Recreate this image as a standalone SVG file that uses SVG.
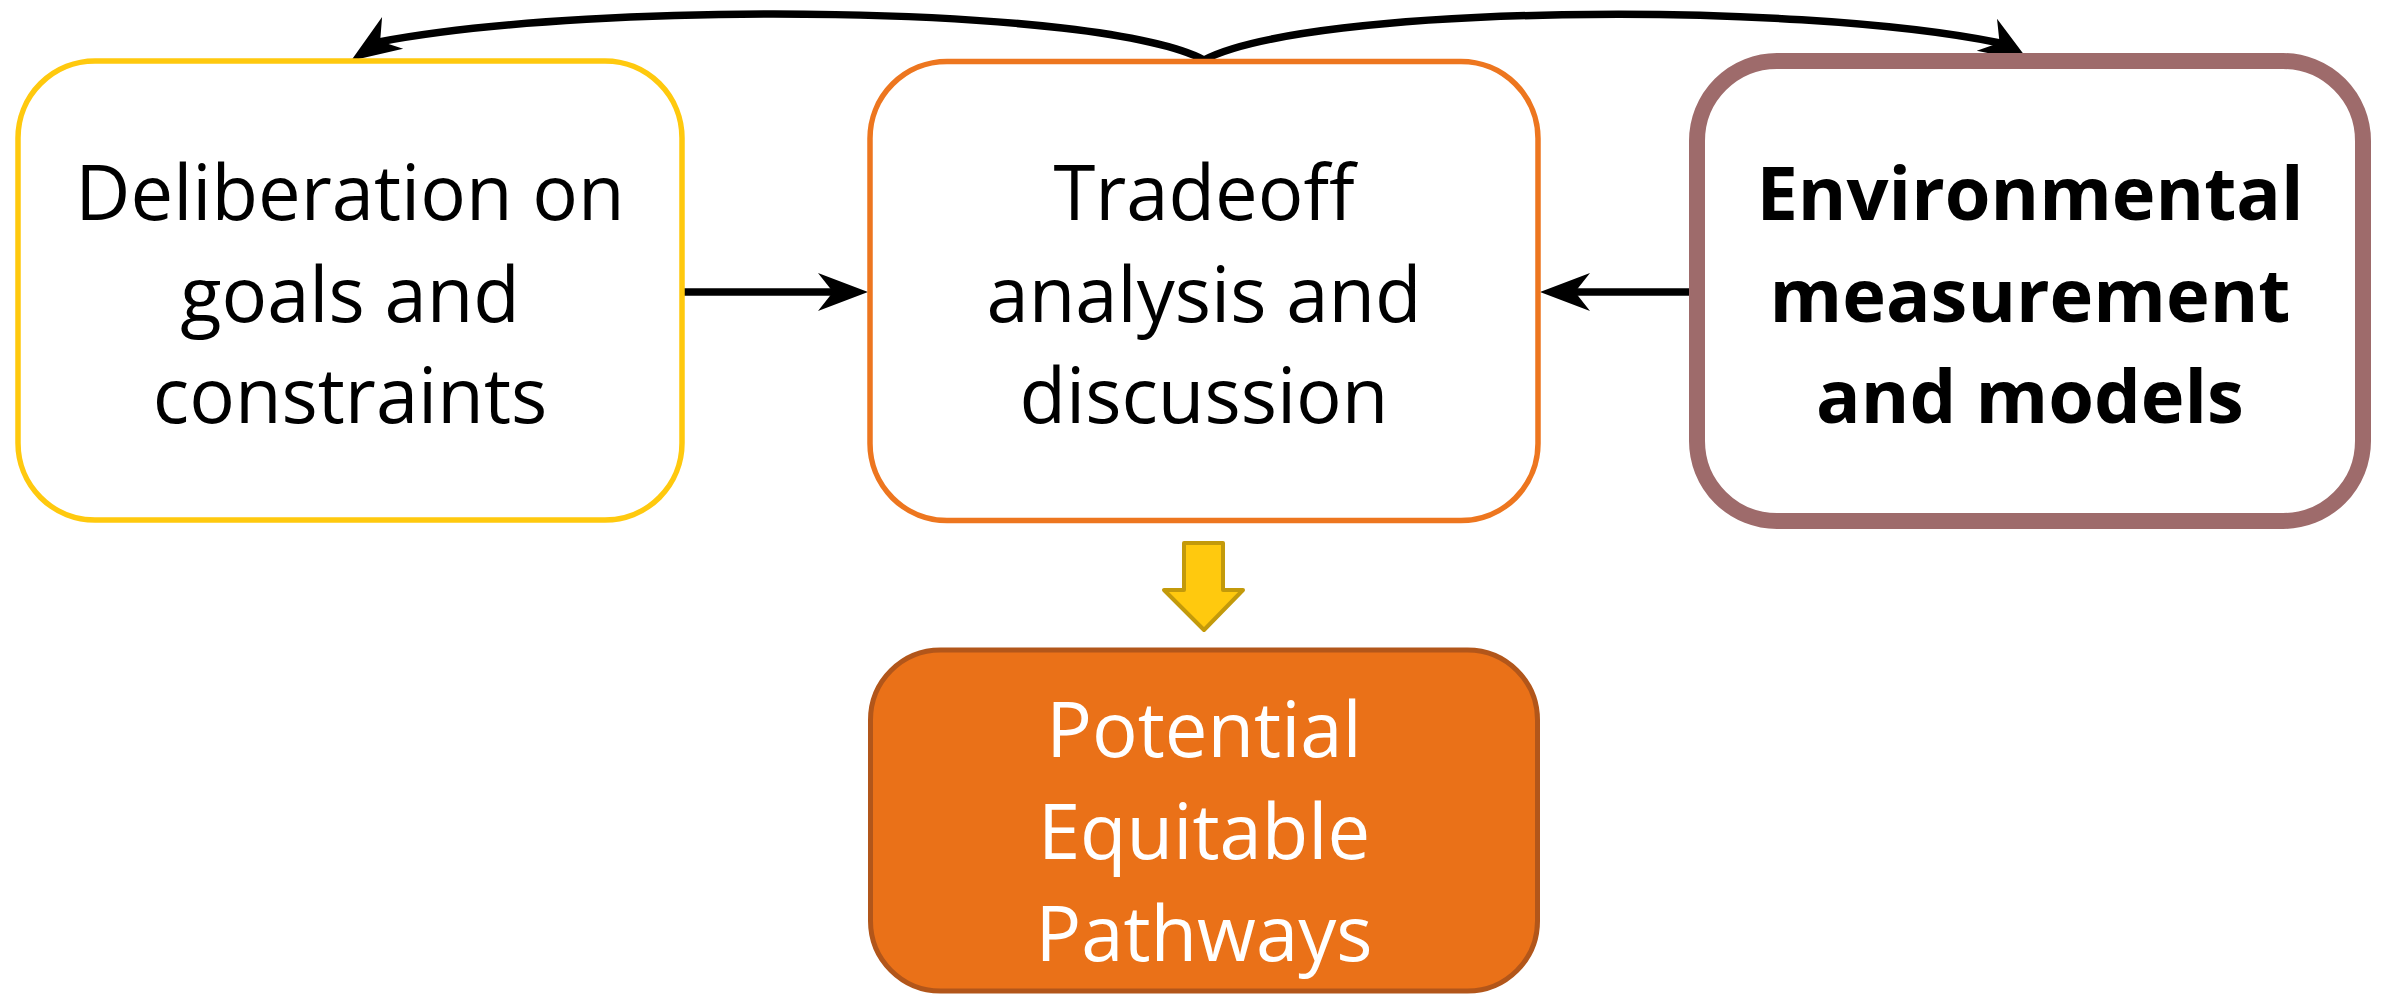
<svg xmlns="http://www.w3.org/2000/svg" width="2385" height="997" viewBox="0 0 2385 997">
  <style>
    .label { font-family: "Open Sans", "Liberation Sans", sans-serif; font-size: 76px; text-anchor: middle; fill: #000; }
    .bold { font-weight: bold; font-size: 74px; }
    .light { fill: #fff; }
    .wire { fill: none; stroke: #000; stroke-width: 7.5; }
  </style>
  <defs>
    <!-- stealth head: tip 12px beyond the path end so the stroke stays hidden inside it -->
    <marker id="stealth" markerUnits="userSpaceOnUse" markerWidth="70" markerHeight="50" viewBox="-52 -22 70 44" refX="-12" refY="0" orient="auto">
      <path d="M0,0 L-50,-19 L-35,0 L-50,19 Z" fill="#000"/>
    </marker>
  </defs>

  <!-- connectors -->
  <g id="connectors">
    <path class="wire" d="M684,292 L856,292" marker-end="url(#stealth)"/>
    <path class="wire" d="M1690,292 L1552,292" marker-end="url(#stealth)"/>
    <path class="wire" d="M1204,60 C1100,5 600,0 379,42 L361,54" marker-end="url(#stealth)"/>
    <path class="wire" d="M1204,60 C1308,5 1790,0 2000,43 L2019,55" marker-end="url(#stealth)"/>
    <path id="down-arrow" d="M1184,543 L1223,543 L1223,590 L1243,590 L1204,630 L1164,590 L1184,590 Z" fill="#FFC90E" stroke="#C39A0B" stroke-width="4" stroke-linejoin="round"/>
  </g>

  <!-- nodes -->
  <g id="node-goals">
    <rect x="18" y="61" width="664" height="459" rx="77" ry="77" fill="#fff" stroke="#FFC90E" stroke-width="5.5"/>
    <text class="label" x="350" y="220">Deliberation on</text>
    <text class="label" x="350" y="322">goals and</text>
    <text class="label" x="350" y="423">constraints</text>
  </g>

  <g id="node-tradeoff">
    <rect x="870" y="61.5" width="668" height="459" rx="77" ry="77" fill="#fff" stroke="#ED761F" stroke-width="5.5"/>
    <text class="label" x="1204" y="220">Tradeoff</text>
    <text class="label" x="1204" y="322">analysis and</text>
    <text class="label" x="1204" y="423">discussion</text>
  </g>

  <g id="node-environment">
    <rect x="1697" y="61" width="666" height="460" rx="80" ry="80" fill="#fff" stroke="#9E6B6B" stroke-width="16"/>
    <text class="label bold" x="2030" y="220">Environmental</text>
    <text class="label bold" x="2030" y="322">measurement</text>
    <text class="label bold" x="2030" y="423">and models</text>
  </g>

  <g id="node-pathways">
    <rect x="870.5" y="650" width="667" height="341" rx="70" ry="70" fill="#EA7118" stroke="#B2561A" stroke-width="5"/>
    <text class="label light" x="1204" y="757">Potential</text>
    <text class="label light" x="1204" y="859">Equitable</text>
    <text class="label light" x="1204" y="961">Pathways</text>
  </g>
</svg>
